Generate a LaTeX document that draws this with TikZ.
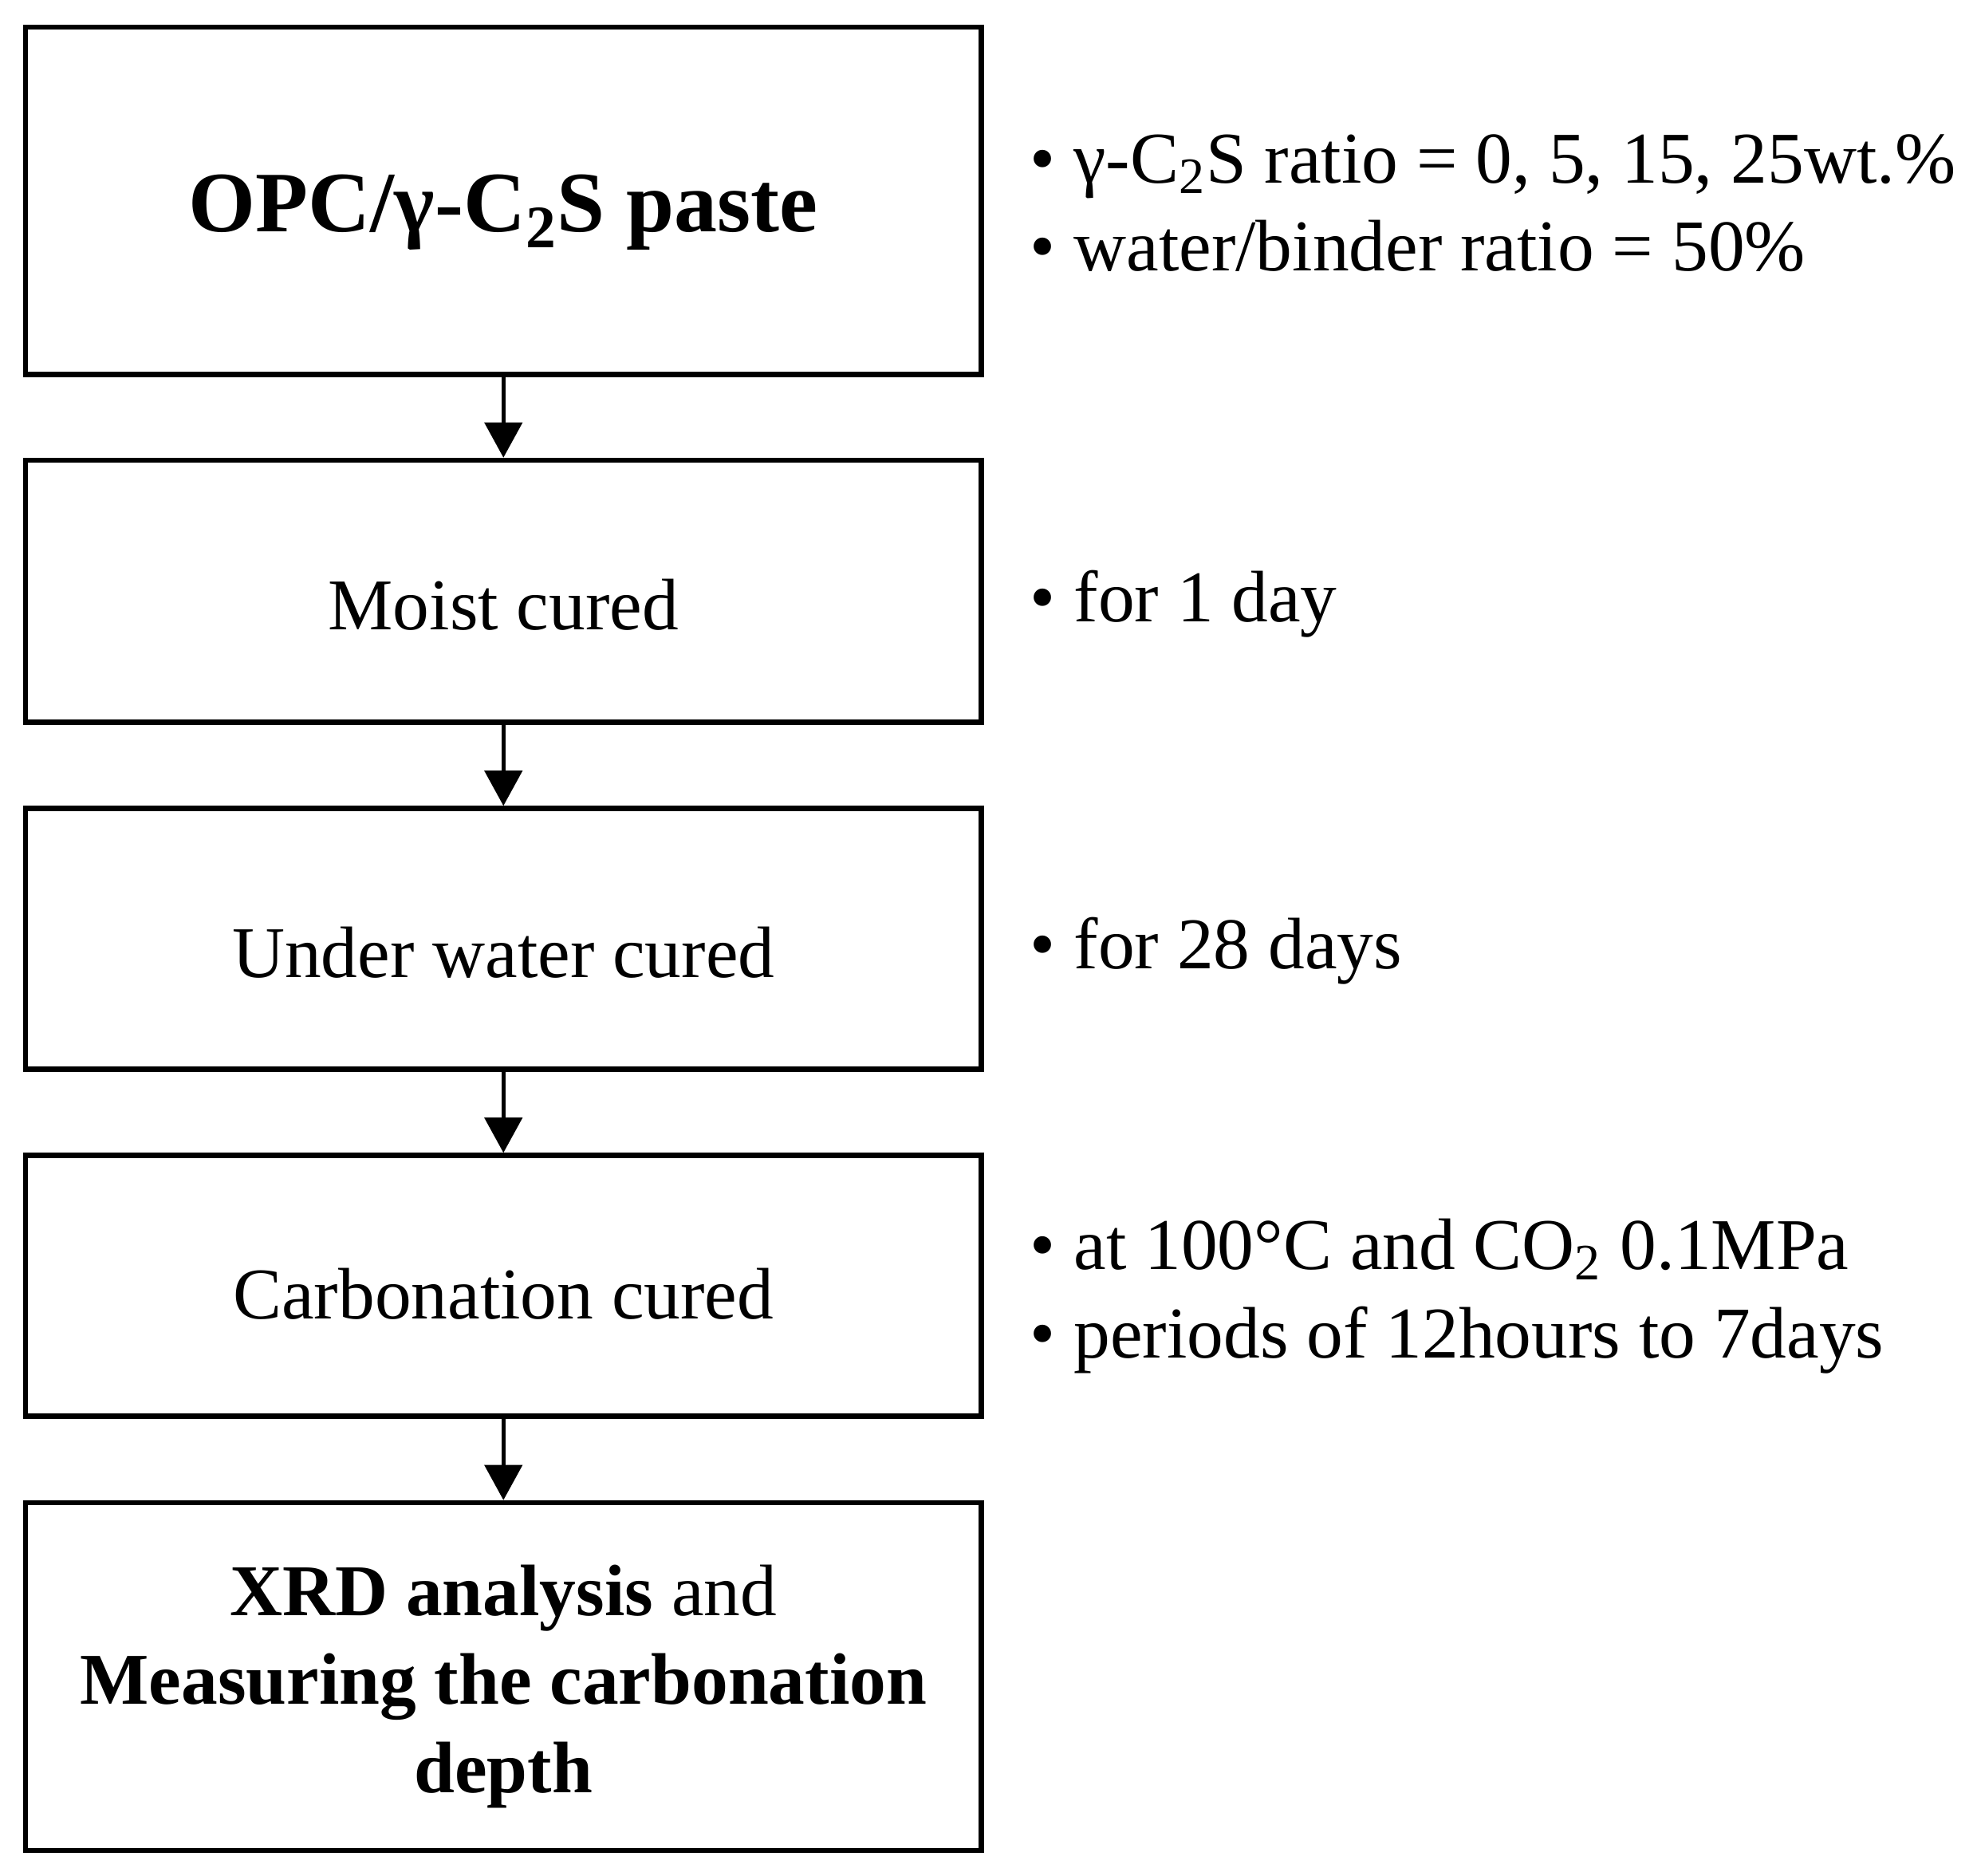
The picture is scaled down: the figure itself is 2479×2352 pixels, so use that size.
\documentclass[tikz,border=0pt]{standalone}
\usepackage{fontspec}
\setmainfont{Liberation Serif}
\usetikzlibrary{arrows.meta}
\begin{document}
\begin{tikzpicture}[x=0.01cm,y=-0.01cm,
  stepbox/.style={draw=black,line width=0.063cm,minimum width=11.975cm,align=center,inner sep=0pt,
    font=\fontsize{26}{31.5}\selectfont,text height=0.96cm,text depth=0pt},
  note/.style={anchor=base west,align=left,inner sep=0pt,font=\fontsize{26}{31.5}\selectfont},
  flow/.style={line width=0.045cm,-{Triangle[length=0.44cm,width=0.47cm]}}]
\useasboundingbox (0,0) rectangle (2479,2352);
\node[stepbox,minimum height=4.355cm,text height=0.78cm] (b1) at (631.25,251.75) {\fontsize{30.7}{37}\selectfont\bfseries OPC/γ-C\textsubscript{2}S paste};
\node[stepbox,minimum height=3.285cm] (b2) at (631.25,741.25) {Moist cured};
\node[stepbox,minimum height=3.27cm] (b3) at (631.25,1177) {Under water cured};
\node[stepbox,minimum height=3.27cm,text height=0.82cm] (b4) at (631.25,1612) {Carbonation cured};
\node[stepbox,minimum height=4.36cm,text height=2.90cm] (b5) at (631.25,2102) {\textbf{XRD analysis} and\\\textbf{Measuring the carbonation}\\\textbf{depth}};
\draw[flow] (b1) -- (b2);
\draw[flow] (b2) -- (b3);
\draw[flow] (b3) -- (b4);
\draw[flow] (b4) -- (b5);
\node[note] (n1) at (1291,340) {• γ-C\textsubscript{2}S ratio = 0, 5, 15, 25wt.\%\\• water/binder ratio = 50\%};
\node[note] (n2) at (1291,779) {• for 1 day};
\node[note] (n3) at (1291,1214) {• for 28 days};
\node[note] (n4) at (1291,1702) {• at 100°C and CO\textsubscript{2} 0.1MPa\\• periods of 12hours to 7days};
\end{tikzpicture}
\end{document}
